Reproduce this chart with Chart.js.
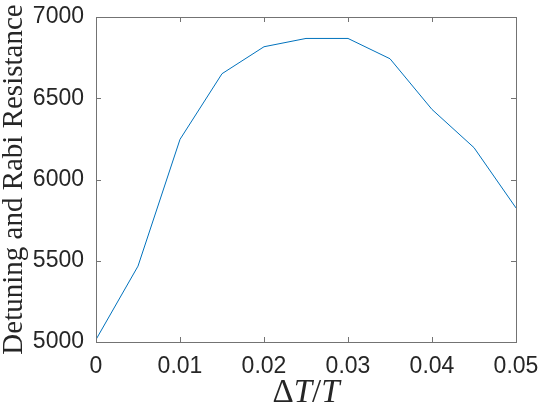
<!DOCTYPE html>
<html>
<head>
<meta charset="utf-8">
<script src="https://cdn.jsdelivr.net/npm/chart.js@4.4.0/dist/chart.umd.min.js"></script>
<style>
  html, body { margin: 0; padding: 0; background: #fff; }
  #wrap { width: 540px; height: 412px; }
</style>
</head>
<body>
<div id="wrap"><canvas id="chart" width="540" height="412"></canvas></div>
<script>
// data
const dtOverT = [0, 0.005, 0.01, 0.015, 0.02, 0.025, 0.03, 0.035, 0.04, 0.045, 0.05];
const resistance = [5015, 5467, 6247, 6651, 6817, 6868, 6868, 6743, 6431, 6196, 5825];
const xTickValues = [0, 0.01, 0.02, 0.03, 0.04, 0.05];
const xTickLabels = ['0', '0.01', '0.02', '0.03', '0.04', '0.05'];
const yTickValues = [5000, 5500, 6000, 6500, 7000];
const yTickLabels = ['5000', '5500', '6000', '6500', '7000'];
// x label pieces: [text, italic]
const xTitleParts = [['Δ', false], ['T', true], ['/', false], ['T', true]];

const axisColor = '#737373';
const textColor = '#262626';

// matlab style box with inward ticks on all four sides, plus the math x label
const boxPlugin = {
  id: 'box',
  afterDraw(chart) {
    const { ctx, chartArea: a, scales } = chart;
    const len = 5;
    ctx.save();
    ctx.strokeStyle = axisColor;
    ctx.lineWidth = 1;
    ctx.strokeRect(a.left + 0.5, a.top + 0.5, a.right - a.left, a.bottom - a.top);
    ctx.beginPath();
    xTickValues.forEach(v => {
      const px = Math.round(scales.x.getPixelForValue(v)) + 0.5;
      ctx.moveTo(px, a.bottom); ctx.lineTo(px, a.bottom - len);
      ctx.moveTo(px, a.top); ctx.lineTo(px, a.top + len);
    });
    yTickValues.forEach(v => {
      const py = Math.round(scales.y.getPixelForValue(v)) + 0.5;
      ctx.moveTo(a.left, py); ctx.lineTo(a.left + len, py);
      ctx.moveTo(a.right, py); ctx.lineTo(a.right - len, py);
    });
    ctx.stroke();

    // ΔT/T with upright delta and slash
    const size = 33;
    const fontFor = it => (it ? 'italic ' : '') + size + 'px "Liberation Serif"';
    let total = 0;
    xTitleParts.forEach(([t, it]) => { ctx.font = fontFor(it); total += ctx.measureText(t).width; });
    let x = (a.left + a.right) / 2 - total / 2;
    ctx.fillStyle = textColor;
    ctx.textBaseline = 'alphabetic';
    ctx.textAlign = 'left';
    xTitleParts.forEach(([t, it]) => {
      ctx.font = fontFor(it);
      ctx.fillText(t, x, 402);
      x += ctx.measureText(t).width;
    });
    ctx.restore();
  }
};

new Chart(document.getElementById('chart'), {
  type: 'line',
  data: {
    datasets: [{
      data: dtOverT.map((x, i) => ({ x: x, y: resistance[i] })),
      borderColor: '#0072BD',
      borderWidth: 1,
      pointRadius: 0,
      tension: 0,
      fill: false
    }]
  },
  options: {
    responsive: false,
    animation: false,
    layout: { padding: { top: 17, right: 24, left: 0, bottom: 0 } },
    plugins: { legend: { display: false }, tooltip: { enabled: false } },
    scales: {
      x: {
        type: 'linear',
        min: 0,
        max: 0.05,
        afterBuildTicks: s => { s.ticks = xTickValues.map(v => ({ value: v })); },
        afterFit: s => { s.height = 70; s.paddingLeft = 0; s.paddingRight = 0; },
        grid: { display: false, drawTicks: false },
        border: { display: false },
        ticks: {
          padding: 11,
          color: textColor,
          font: { family: 'Liberation Sans', size: 23 },
          maxRotation: 0,
          autoSkip: false,
          callback: (v) => xTickLabels[xTickValues.indexOf(v)]
        }
      },
      y: {
        min: 5000,
        max: 7000,
        afterBuildTicks: s => { s.ticks = yTickValues.map(v => ({ value: v })); },
        afterFit: s => { s.width = 96; s.paddingTop = 0; s.paddingBottom = 0; },
        grid: { display: false, drawTicks: false },
        border: { display: false },
        ticks: {
          padding: 12,
          color: textColor,
          font: { family: 'Liberation Sans', size: 23 },
          autoSkip: false,
          callback: (v) => yTickLabels[yTickValues.indexOf(v)]
        },
        title: {
          display: true,
          text: 'Detuning and Rabi Resistance',
          color: textColor,
          font: { family: 'Liberation Serif', size: 29, lineHeight: 1 },
          padding: { top: 0, bottom: 0 }
        }
      }
    }
  },
  plugins: [boxPlugin]
});
</script>
</body>
</html>
